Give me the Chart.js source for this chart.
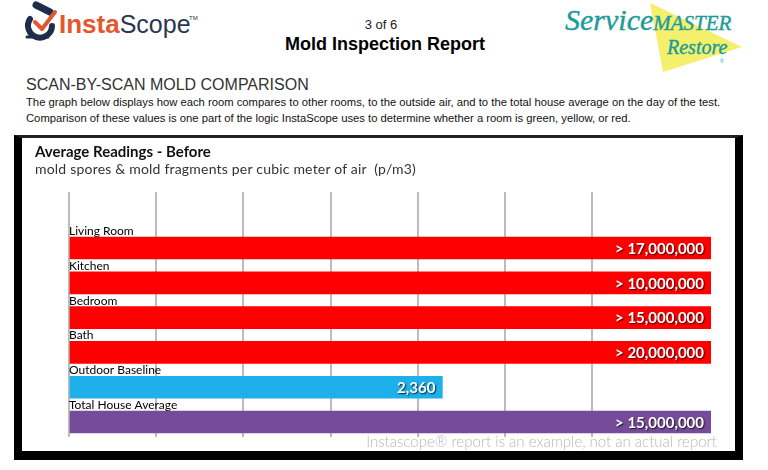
<!DOCTYPE html>
<html>
<head>
<meta charset="utf-8">
<script src="https://cdn.jsdelivr.net/npm/chart.js@4"></script>
<style>
  html, body { margin: 0; padding: 0; background: #fff; }
  body { width: 768px; height: 470px; position: relative; overflow: hidden; font-family: 'Liberation Sans', Arial, sans-serif; color: #111; }
  .abs { position: absolute; white-space: nowrap; }
  #box { position: absolute; left: 14px; top: 135px; width: 713px; height: 313px;
         border-left: 8px solid #000; border-right: 8px solid #000; border-top: 3px solid #222; border-bottom: 9px solid #000; }
  #chart { position: absolute; left: 22px; top: 138px; }
</style>
</head>
<body>

<!-- logos -->
<svg class="abs" style="left:0;top:0" width="768" height="80">
  <g fill="none" stroke-linecap="round">
    <path d="M30 19 A12 12 0 1 0 52 26" stroke="#1f2d4d" stroke-width="6"/>
    <path d="M36 5 L50 12" stroke="#1f2d4d" stroke-width="7"/>
    <path d="M27 37 L48 37" stroke="#1f2d4d" stroke-width="3"/>
    <path d="M35 22 L42 29 L55 12" stroke="#e4572e" stroke-width="4" stroke-linejoin="round"/>
  </g>
  <text x="59" y="33" font-family="Liberation Sans" font-weight="bold" font-size="26" fill="#e4572e">Insta<tspan fill="#2a3750" font-weight="normal" font-size="25">Scope</tspan></text>
  <text x="189" y="20" font-family="Liberation Sans" font-size="6" fill="#2a3750">TM</text>

  <polygon points="650,3 742,47 663,72" fill="#f4f06c"/>
  <text x="565" y="30" font-family="Liberation Serif" font-style="italic" font-size="30" fill="#1c9c99" stroke="#1c9c99" stroke-width="0.4">Service<tspan font-size="21">MASTER</tspan></text>
  <text x="667" y="54" font-family="Liberation Serif" font-style="italic" font-size="20" fill="#1c9c99" stroke="#1c9c99" stroke-width="0.4">Restore</text>
  <text x="720" y="63" font-family="Liberation Sans" font-size="5" fill="#1c9c99">®</text>
</svg>

<div class="abs" style="left:0;width:762px;top:17px;text-align:center;font-size:13px;color:#222">3 of 6</div>
<div class="abs" style="left:0;width:770px;top:34px;text-align:center;font-size:18px;font-weight:bold;color:#000">Mold Inspection Report</div>

<div class="abs" style="left:26px;top:76px;font-size:16px;color:#333">SCAN-BY-SCAN MOLD COMPARISON</div>
<div class="abs" style="left:26px;top:94px;font-size:11.25px;line-height:16px;color:#111">
  The graph below displays how each room compares to other rooms, to the outside air, and to the total house average on the day of the test.<br>
  Comparison of these values is one part of the logic InstaScope uses to determine whether a room is green, yellow, or red.
</div>

<div id="box"></div>
<canvas id="chart" width="713" height="313"></canvas>

<div class="abs" style="left:35px;top:142px;font-family:Lato;font-weight:bold;font-size:15px;color:#111">Average Readings - Before</div>
<div class="abs" style="left:35px;top:160px;font-family:Lato;font-size:14px;letter-spacing:0.2px;color:#333">mold spores &amp; mold fragments per cubic meter of air &nbsp;(p/m3)</div>
<div class="abs" style="right:51px;top:432px;font-family:Lato;font-weight:300;font-size:15px;color:#b8b8b8">Instascope® report is an example, not an actual report</div>

<script>
// ─── Dados ──────────────────────────────────────
const rooms      = ['Living Room', 'Kitchen', 'Bedroom', 'Bath', 'Outdoor Baseline', 'Total House Average'];
const readings   = [17000000, 10000000, 15000000, 20000000, 2360, 15000000];
const overLimit  = [true, true, true, true, false, true];   // shown as "> n"
const barLengths = [7.36, 7.36, 7.36, 7.36, 4.28, 7.36];   // bar length in grid units
const gridSteps  = [0, 1, 2, 3, 4, 5, 6];

const barColors = ['#fe0000', '#fe0000', '#fe0000', '#fe0000', '#1db0ea', '#764c9a'];

function readingLabel(i) {
  return (overLimit[i] ? '> ' : '') + readings[i].toLocaleString('en-US');
}

// Rótulos: nome acima da barra, valor dentro da barra
const barLabels = {
  id: 'barLabels',
  afterDatasetsDraw(chart) {
    const ctx = chart.ctx;
    const meta = chart.getDatasetMeta(0);
    const left = chart.chartArea.left;
    ctx.save();
    meta.data.forEach((bar, i) => {
      const top = bar.y - bar.height / 2;
      ctx.font = '12px Lato';
      ctx.fillStyle = '#000';
      ctx.textAlign = 'left';
      ctx.textBaseline = 'bottom';
      ctx.fillText(rooms[i], left, top);

      ctx.font = 'bold 15px Lato';
      ctx.textAlign = 'right';
      ctx.textBaseline = 'middle';
      ctx.shadowColor = 'rgba(0,0,0,.75)';
      ctx.shadowOffsetX = 1;
      ctx.shadowOffsetY = 1;
      ctx.shadowBlur = 1.5;
      ctx.fillStyle = '#fff';
      ctx.fillText(readingLabel(i), bar.x - 7, bar.y + 1);
      ctx.shadowColor = 'transparent';
    });
    ctx.restore();
  }
};

new Chart(document.getElementById('chart'), {
  type: 'bar',
  data: {
    datasets: [{
      data: rooms.map((r, i) => ({ x: barLengths[i], y: i })),
      backgroundColor: barColors,
      borderWidth: 0,
      barThickness: 22,
    }],
  },
  options: {
    indexAxis: 'y',
    responsive: false,
    animation: false,
    layout: { padding: { left: 47, right: 24, top: 54, bottom: 14 } },
    plugins: { legend: { display: false }, tooltip: { enabled: false } },
    scales: {
      x: {
        type: 'linear',
        min: 0, max: 7.36,
        afterBuildTicks: s => { s.ticks = gridSteps.map(v => ({ value: v })); },
        ticks: { display: false },
        grid: { color: '#bcbcbc', lineWidth: 2, drawTicks: false },
        border: { display: false },
      },
      y: {
        type: 'linear',
        reverse: true,
        offset: false,
        min: -1.61, max: 5.43,
        display: false,
      },
    },
  },
  plugins: [barLabels],
});
</script>
</body>
</html>
